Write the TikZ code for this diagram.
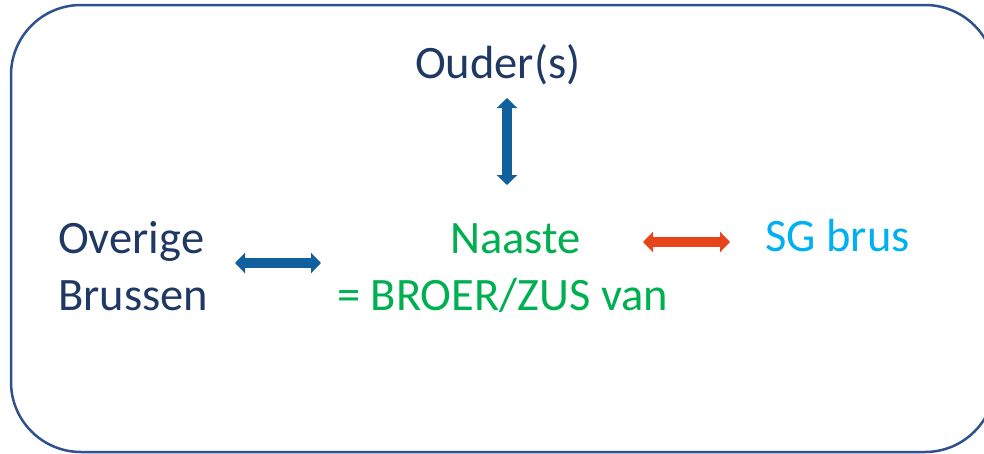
\documentclass[tikz,border=0pt]{standalone}
\usepackage{fontspec}
\setmainfont{Carlito}
\usetikzlibrary{arrows.meta}

\definecolor{navy}{RGB}{31,56,100}
\definecolor{rimblue}{RGB}{47,82,143}
\definecolor{arrblue}{RGB}{16,96,158}
\definecolor{arrred}{RGB}{232,68,28}
\definecolor{kidgreen}{RGB}{0,176,80}
\definecolor{skyblue}{RGB}{0,176,240}

\begin{document}
\begin{tikzpicture}[
		x=1pt, y=-1pt,
		lbl/.style={anchor=base west, inner sep=0pt, font=\fontsize{46.5}{57}\selectfont},
		dbl/.style={line width=10pt, {Triangle[width=20pt, length=10pt]}-{Triangle[width=20pt, length=10pt]}}
		]
		\clip (0,0) rectangle (984,453);
		
		% Frame
		\draw[rimblue, line width=2.5pt, rounded corners=70pt] (11,5) rectangle (995,452);
		
		% Nodes
		\node[lbl, text=navy] (ouder) at (415,78) {Ouder(s)};
		\node[lbl, text=navy] (overige) at (58,253) {Overige};
		\node[lbl, text=navy] (brussen) at (58,310) {Brussen};
		\node[lbl, text=kidgreen] (naaste) at (450,253) {Naaste};
		\node[lbl, text=kidgreen] (broer) at (337,310) {= BROER/ZUS van};
		\node[lbl, text=skyblue] (sgbrus) at (765,251) {SG brus};
		
		% Arrow ends
		\coordinate (up1) at (507,98);
		\coordinate (up2) at (507,185);
		\coordinate (le1) at (235,263);
		\coordinate (le2) at (321,263);
		\coordinate (ri1) at (643,242);
		\coordinate (ri2) at (730,242);
		
		% Arrows
		\draw[dbl, arrblue] (up1) -- (up2);
		\draw[dbl, arrblue] (le1) -- (le2);
		\draw[dbl, arrred] (ri1) -- (ri2);
		
	\end{tikzpicture}
\end{document}
